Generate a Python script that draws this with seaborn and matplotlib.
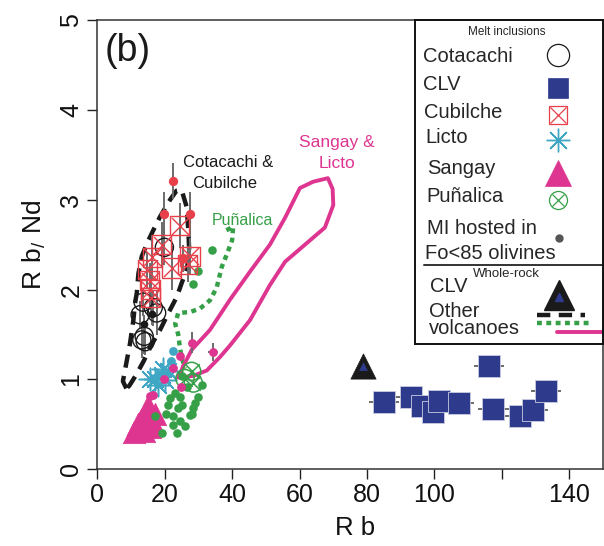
import numpy as np
import pandas as pd
import matplotlib
matplotlib.use("Agg")
import matplotlib.pyplot as plt
import seaborn as sns

# ---------------- data (Rb in ppm, Rb/Nd ratio) ----------------
cotacachi_rb = [19.9, 13.6, 16.6, 12.7, 17.6, 13.2, 14.2, 13.9]
cotacachi_ratio = [2.47, 1.86, 1.80, 1.72, 1.74, 1.44, 1.42, 1.48]
cotacachi_err = [0.20, 0.15, 0.20, 0.15, 0.25, 0.20, 0.15, 0.20]

cubilche_rb = [24.5, 19.1, 27.5, 26.8, 16.3, 22.1, 14.8, 15.5, 15.7, 15.8]
cubilche_ratio = [2.71, 2.50, 2.37, 2.28, 2.36, 2.24, 2.22, 2.10, 2.00, 1.91]
cubilche_err = [0.25, 0.25, 0.20, 0.20, 0.25, 0.25, 0.20, 0.20, 0.20, 0.20]

licto_rb = [19.1, 17.1, 21.1, 18.1, 20.1, 15.6, 19.5]
licto_ratio = [1.05, 1.00, 1.09, 0.94, 0.99, 1.00, 1.12]

sangay_rb = [11.0, 12.5, 14.0, 15.5, 13.0, 14.8, 16.5, 17.2, 15.0, 12.0]
sangay_ratio = [0.42, 0.45, 0.43, 0.47, 0.55, 0.60, 0.52, 0.62, 0.70, 0.50]

punalica_rb = [28.0, 26.0, 28.5]
punalica_ratio = [1.09, 1.01, 0.96]

clv_rb = [85.1, 93.0, 96.3, 99.7, 101.4, 107.3, 116.2, 117.5, 125.4, 129.2, 133.1]
clv_ratio = [0.75, 0.80, 0.70, 0.64, 0.76, 0.74, 1.15, 0.67, 0.59, 0.66, 0.87]
clv_rb_err = [4.5, 4.5, 4.5, 4.5, 4.5, 4.5, 4.5, 4.5, 4.5, 4.5, 4.5]

# melt inclusions hosted in Fo<85 olivines
fo_cub_rb = [22.4, 19.9, 27.5, 25.3]
fo_cub_ratio = [3.21, 2.84, 2.84, 2.35]
fo_cub_err = [0.20, 0.25, 0.25, 0.15]

fo_cot_rb = [16.2, 13.8]
fo_cot_ratio = [1.73, 1.62]
fo_cot_err = [0.12, 0.10]

fo_licto_rb = [22.6, 22.0]
fo_licto_ratio = [1.32, 1.20]

fo_sangay_rb = [28.0, 34.2, 24.5, 22.4, 19.8, 24.8, 16.6, 15.5]
fo_sangay_ratio = [1.41, 1.30, 1.26, 1.13, 1.00, 0.92, 0.83, 0.82]
fo_sangay_rb_err = [0.0, 1.5, 0.0, 0.0, 0.0, 0.0, 0.0, 0.0]
fo_sangay_err = [0.12, 0.10, 0.0, 0.0, 0.0, 0.0, 0.0, 0.0]

fo_pun_rb = [33.9, 30.0, 28.5, 25.0, 26.5, 23.1, 24.5, 21.6, 21.1, 25.0, 28.5,
             23.8, 22.6, 27.5, 24.5, 17.1, 22.6, 19.1, 31.0, 29.0, 28.0, 26.0,
             20.5, 30.0, 23.5]
fo_pun_ratio = [2.44, 2.21, 2.06, 1.04, 0.92, 0.85, 0.81, 0.79, 0.72, 0.72, 0.68,
                0.68, 0.59, 0.60, 0.54, 0.59, 0.49, 0.40, 0.94, 0.74, 0.61, 0.48,
                0.62, 0.80, 0.40]

# whole-rock
clv_wr_rb = [78.8]
clv_wr_ratio = [1.15]

# whole-rock fields of other volcanoes
cc_env_rb = [8.6, 7.6, 8.7, 9.7, 10.7, 11.2, 11.7, 12.2, 13.2, 14.7, 16.6, 18.6,
             21.6, 23.5, 25.0, 26.5, 27.0, 27.3, 26.5, 25.0, 23.6, 21.1, 18.6,
             16.0, 13.7, 11.5, 9.5, 8.6]
cc_env_ratio = [0.90, 0.98, 1.20, 1.40, 1.66, 1.85, 1.96, 2.18, 2.37, 2.51, 2.66,
                2.81, 3.00, 3.10, 3.11, 2.92, 2.66, 2.40, 2.22, 2.07, 1.92, 1.74,
                1.55, 1.38, 1.20, 1.05, 0.93, 0.90]

pun_env_rb = [38.3, 40.3, 40.0, 38.5, 36.9, 35.4, 33.4, 30.5, 27.5, 24.0, 23.1,
              24.0, 24.5, 25.0, 26.0]
pun_env_ratio = [2.66, 2.70, 2.55, 2.40, 2.25, 2.02, 1.88, 1.79, 1.75, 1.74, 1.62,
                 1.50, 1.36, 1.25, 1.12]

sl_env_rb = [25.4, 28.0, 33.4, 39.4, 45.3, 51.2, 55.7, 60.1, 64.0, 68.4, 69.8,
             70.0, 67.5, 61.6, 55.7, 51.2, 45.3, 39.4, 36.4, 32.5, 28.5, 24.0, 25.4]
sl_env_ratio = [1.14, 1.33, 1.55, 1.89, 2.20, 2.50, 2.80, 3.13, 3.20, 3.24, 3.12,
                2.94, 2.69, 2.50, 2.31, 2.05, 1.66, 1.38, 1.25, 1.10, 1.04, 1.02, 1.14]

x_ticks = [0, 20, 40, 60, 80, 100, 120, 140]
x_tick_labels = ["0", "20", "40", "60", "80", "100", "", "140"]
y_ticks = [0, 1, 2, 3, 4, 5]
y_tick_labels = ["0", "1", "2", "3", "4", "5"]

# ---------------- style ----------------
sns.set_style("ticks")
plt.rcParams["font.family"] = ["Liberation Sans", "DejaVu Sans"]
plt.rcParams["mathtext.fontset"] = "custom"
plt.rcParams["mathtext.rm"] = "Liberation Sans"

BLACK = "#1a1a1a"
CLV_C = "#2E3A8C"
CUB_C = "#E8404A"
LICTO_C = "#3FA7C4"
SANGAY_C = "#DD3590"
PUN_C = "#36A048"
ERR_C = "#6b6b6b"

W, H = 604, 546
fig = plt.figure(figsize=(W / 100, H / 100), dpi=100)
left, right, top, bottom = 97.3, 603.0, 20.0, 469.3
ax = fig.add_axes([left / W, 1 - bottom / H, (right - left) / W, (bottom - top) / H])

# ---------------- envelopes ----------------
sns.lineplot(x=cc_env_rb, y=cc_env_ratio, sort=False, estimator=None, ax=ax,
             color=BLACK, lw=3.2, zorder=2).lines[-1].set_dashes([3.0, 1.9])
sns.lineplot(x=pun_env_rb, y=pun_env_ratio, sort=False, estimator=None, ax=ax,
             color=PUN_C, lw=3.2, zorder=2).lines[-1].set_dashes([1.1, 1.0])
sns.lineplot(x=sl_env_rb, y=sl_env_ratio, sort=False, estimator=None, ax=ax,
             color=SANGAY_C, lw=2.8, zorder=2)

# ---------------- error bars ----------------
ax.errorbar(cotacachi_rb, cotacachi_ratio, yerr=cotacachi_err, fmt="none",
            ecolor=ERR_C, elinewidth=1.4, zorder=3)
ax.errorbar(cubilche_rb, cubilche_ratio, yerr=cubilche_err, fmt="none",
            ecolor=ERR_C, elinewidth=1.4, zorder=3)
ax.errorbar(fo_cub_rb, fo_cub_ratio, yerr=fo_cub_err, fmt="none",
            ecolor=ERR_C, elinewidth=1.4, zorder=3)
ax.errorbar(fo_cot_rb, fo_cot_ratio, yerr=fo_cot_err, fmt="none",
            ecolor=ERR_C, elinewidth=1.4, zorder=3)
ax.errorbar(fo_sangay_rb, fo_sangay_ratio, xerr=fo_sangay_rb_err, yerr=fo_sangay_err,
            fmt="none", ecolor=ERR_C, elinewidth=1.4, zorder=3)
ax.errorbar(clv_rb, clv_ratio, xerr=clv_rb_err, fmt="none",
            ecolor=ERR_C, elinewidth=1.4, zorder=3)

# ---------------- melt inclusions ----------------
sns.scatterplot(x=sangay_rb, y=sangay_ratio, ax=ax, marker="^", s=260,
                color=SANGAY_C, edgecolor=SANGAY_C, linewidth=0.5, zorder=4)
sns.scatterplot(x=fo_pun_rb, y=fo_pun_ratio, ax=ax, marker="o", s=38,
                color=PUN_C, edgecolor=PUN_C, linewidth=0, zorder=4)
sns.scatterplot(x=licto_rb, y=licto_ratio, ax=ax, marker=(8, 2, 0), s=260,
                color=LICTO_C, linewidth=1.1, zorder=5)
sns.scatterplot(x=punalica_rb, y=punalica_ratio, ax=ax, marker="o", s=170,
                facecolor="none", edgecolor=PUN_C, linewidth=1.1, zorder=5)
sns.scatterplot(x=punalica_rb, y=punalica_ratio, ax=ax, marker="x", s=110,
                color=PUN_C, linewidth=1.1, zorder=5)
sns.scatterplot(x=fo_licto_rb, y=fo_licto_ratio, ax=ax, marker="o", s=40,
                color=LICTO_C, edgecolor=LICTO_C, linewidth=0, zorder=6)
sns.scatterplot(x=fo_sangay_rb, y=fo_sangay_ratio, ax=ax, marker="o", s=40,
                color=SANGAY_C, edgecolor=SANGAY_C, linewidth=0, zorder=6)
sns.scatterplot(x=cotacachi_rb, y=cotacachi_ratio, ax=ax, marker="o", s=170,
                facecolor="none", edgecolor=BLACK, linewidth=1.0, zorder=5)
sns.scatterplot(x=cubilche_rb, y=cubilche_ratio, ax=ax, marker="s", s=190,
                facecolor="none", edgecolor=CUB_C, linewidth=1.0, zorder=5)
sns.scatterplot(x=cubilche_rb, y=cubilche_ratio, ax=ax, marker="x", s=150,
                color=CUB_C, linewidth=1.0, zorder=5)
sns.scatterplot(x=fo_cub_rb, y=fo_cub_ratio, ax=ax, marker="o", s=45,
                color=CUB_C, edgecolor=CUB_C, linewidth=0, zorder=6)
sns.scatterplot(x=fo_cot_rb, y=fo_cot_ratio, ax=ax, marker="o", s=30,
                color=BLACK, edgecolor=BLACK, linewidth=0, zorder=6)
sns.scatterplot(x=clv_rb, y=clv_ratio, ax=ax, marker="s", s=240,
                color=CLV_C, edgecolor="#c8cbe0", linewidth=0.6, zorder=5)

# ---------------- whole rock ----------------
sns.scatterplot(x=clv_wr_rb, y=clv_wr_ratio, ax=ax, marker="^", s=330,
                color=BLACK, edgecolor=BLACK, linewidth=0.5, zorder=5)
sns.scatterplot(x=clv_wr_rb, y=clv_wr_ratio, ax=ax, marker="^", s=40,
                color=CLV_C, edgecolor=CLV_C, linewidth=0, zorder=6)

# ---------------- annotations ----------------
ax.text(2.3, 4.66, "(b)", fontsize=27, color=BLACK, ha="left", va="center")
ax.text(25.4, 3.41, "Cotacachi &", fontsize=12, color=BLACK, ha="left", va="center")
ax.text(28.0, 3.18, "Cubilche", fontsize=12, color=BLACK, ha="left", va="center")
ax.text(33.9, 2.77, "Puñalica", fontsize=11.5, color=PUN_C, ha="left", va="center")
ax.text(71.1, 3.64, "Sangay &", fontsize=12.5, color=SANGAY_C, ha="center", va="center")
ax.text(71.1, 3.40, "Licto", fontsize=12.5, color=SANGAY_C, ha="center", va="center")

# ---------------- axes ----------------
ax.set_xlim(0, 150)
ax.set_ylim(0, 5)
ax.set_xticks(x_ticks)
ax.set_xticklabels(x_tick_labels)
ax.set_yticks(y_ticks)
ax.set_yticklabels(y_tick_labels, rotation=90, va="center")
ax.tick_params(direction="out", length=7, width=1.0, labelsize=18, colors="#222222",
               labelcolor="#111111", pad=3)
for sp in ax.spines.values():
    sp.set_visible(True)
    sp.set_linewidth(1.1)
    sp.set_color("#333333")
ax.set_xlabel("R b", fontsize=18.5, color="#111111")
ax.set_ylabel(r"$\mathregular{R\ b_{/}\ Nd}$", fontsize=19, color="#111111")
ax.xaxis.set_label_coords((355 - left) / (right - left), -(516 - bottom) / (bottom - top))
ax.yaxis.set_label_coords(-(left - 48) / (right - left), 0.5)

# ---------------- key panel ----------------
lx0, ly0, lx1, ly1 = 415.0, 20.0, 603.0, 344.0
kax = ax.inset_axes([(lx0 - left) / (right - left), (bottom - ly1) / (bottom - top),
                     (lx1 - lx0) / (right - left), (ly1 - ly0) / (bottom - top)])
kax.set_xlim(0, lx1 - lx0)
kax.set_ylim(ly1 - ly0, 0)
kax.set_xticks([])
kax.set_yticks([])
kax.set_facecolor("white")
kax.set_zorder(10)
for sp in kax.spines.values():
    sp.set_linewidth(1.4)
    sp.set_color("#111111")

lab_fs = 14.5
kax.text(91.7, 11.7, "Melt inclusions", fontsize=8.5, ha="center", va="center")
kax.text(8.3, 36, "Cotacachi", fontsize=lab_fs, va="center")
kax.plot([143.3], [35], marker="o", ms=16, mfc="none", mec=BLACK, mew=0.9)
kax.text(8.3, 65, "CLV", fontsize=lab_fs, va="center")
kax.plot([142.7], [68.3], marker="s", ms=15, mfc=CLV_C, mec=CLV_C, mew=0.5)
kax.text(9, 92.7, "Cubilche", fontsize=lab_fs, va="center")
kax.plot([142.7], [95], marker="s", ms=13, mfc="none", mec=CUB_C, mew=0.9)
kax.plot([142.7], [95], marker="x", ms=11, mec=CUB_C, mew=0.9)
kax.text(10, 117.3, "Licto", fontsize=lab_fs, va="center")
kax.plot([142.7], [120], marker=(8, 2, 0), ms=17, mec=LICTO_C, mew=1.0)
kax.text(11.7, 149, "Sangay", fontsize=lab_fs, va="center")
kax.plot([143.3], [153.3], marker="^", ms=19, mfc=SANGAY_C, mec=SANGAY_C, mew=0.5)
kax.text(11.7, 176.7, "Puñalica", fontsize=lab_fs, va="center")
kax.plot([142.7], [180], marker="o", ms=13, mfc="none", mec=PUN_C, mew=0.9)
kax.plot([142.7], [180], marker="x", ms=9, mec=PUN_C, mew=0.9)
kax.text(11.7, 208.3, "MI hosted in", fontsize=lab_fs, va="center")
kax.text(10, 233.3, "Fo<85 olivines", fontsize=lab_fs, va="center")
kax.plot([144], [218], marker="o", ms=5, mfc="#555555", mec="#555555")
kax.plot([9, 188], [245, 245], color="#333333", lw=1.4)
kax.text(58, 254, "Whole-rock", fontsize=9.5, va="center")
kax.text(15, 266.7, "CLV", fontsize=lab_fs, va="center")
kax.plot([144], [275], marker="^", ms=21, mfc=BLACK, mec=BLACK)
kax.plot([144], [277], marker="^", ms=6, mfc=CLV_C, mec=CLV_C)
kax.text(14.3, 300, "Other\nvolcanoes", fontsize=lab_fs, va="center", linespacing=0.82)
kax.plot([121.7, 170], [295, 295], color=BLACK, lw=3.2, dashes=[3.0, 1.9])
kax.plot([121.7, 178], [303.3, 303.3], color=PUN_C, lw=3.2, dashes=[1.1, 1.0])
kax.plot([141.7, 188], [311.7, 311.7], color=SANGAY_C, lw=2.8)

fig.savefig("out.png", dpi=100)
